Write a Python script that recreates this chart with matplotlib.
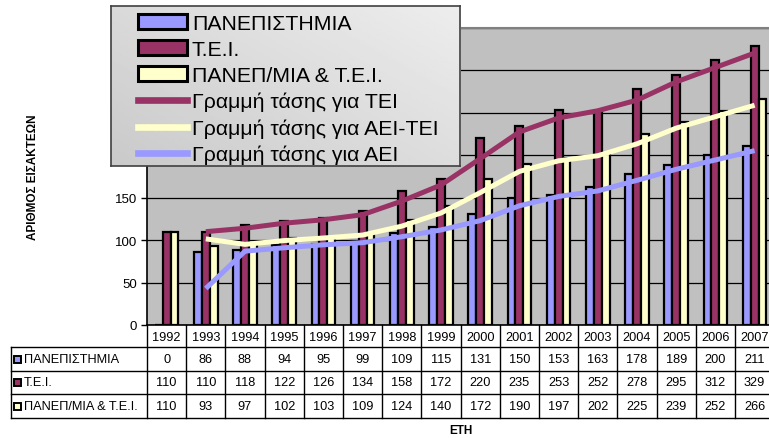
import numpy as np
import matplotlib
matplotlib.use('Agg')
from matplotlib import pyplot as plt
from matplotlib.patches import Patch, Rectangle
from matplotlib.lines import Line2D
from matplotlib.transforms import blended_transform_factory

plt.rcParams['font.family'] = ['Liberation Sans', 'DejaVu Sans']

"DATA"
years = ['1992', '1993', '1994', '1995', '1996', '1997', '1998', '1999',
         '2000', '2001', '2002', '2003', '2004', '2005', '2006', '2007']
aei = [0, 86, 88, 94, 95, 99, 109, 115, 131, 150, 153, 163, 178, 189, 200, 211]
tei = [110, 110, 118, 122, 126, 134, 158, 172, 220, 235, 253, 252, 278, 295, 312, 329]
both = [110, 93, 97, 102, 103, 109, 124, 140, 172, 190, 197, 202, 225, 239, 252, 266]
# trend lines (2-period moving average, from 1993 on)
trend_years = years[1:]
trend_tei = [110, 114, 120, 124, 130, 146, 165, 196, 227.5, 244, 252.5, 265, 286.5, 303.5, 320.5]
trend_both = [101.5, 95, 99.5, 102.5, 106, 116.5, 132, 156, 181, 193.5, 199.5, 213.5, 232, 245.5, 259]
trend_aei = [43, 87, 91, 94.5, 97, 104, 112, 123, 140.5, 151.5, 158, 170.5, 183.5, 194.5, 205.5]

series_names = ['ΠΑΝΕΠΙΣΤΗΜΙΑ', 'Τ.Ε.Ι.', 'ΠΑΝΕΠ/ΜΙΑ & Τ.Ε.Ι.']
trend_names = ['Γραμμή τάσης για ΤΕΙ', 'Γραμμή τάσης για ΑΕΙ-ΤΕΙ', 'Γραμμή τάσης για ΑΕΙ']

"STYLE"
c_aei = '#9999FF'
c_tei = '#993366'
c_both = '#FFFFCC'
W, H = 769, 439
bw = 0.2

fig = plt.figure(figsize=(W/100, H/100), dpi=100)
ax = fig.add_axes([147/W, (H-326)/H, 16*39.2/W, 297/H])
ax.set_facecolor('#C0C0C0')

x = np.arange(len(years))
for vals, off, col in [(aei, -bw, c_aei), (tei, 0, c_tei), (both, bw, c_both)]:
    ax.bar(x + off, vals, width=bw, color=col, edgecolor='black', linewidth=1.6, zorder=3)

xt = np.arange(1, len(years))
ax.plot(xt, trend_tei, color=c_tei, lw=3.6, zorder=4, solid_capstyle='butt')
ax.plot(xt, trend_both, color=c_both, lw=3.6, zorder=4, solid_capstyle='butt')
ax.plot(xt, trend_aei, color=c_aei, lw=3.6, zorder=4, solid_capstyle='butt')

ax.set_xlim(-0.5, len(years) - 0.5)
ax.set_ylim(0, 350)
ax.set_yticks(np.arange(0, 351, 50))
ax.yaxis.grid(True, color='black', lw=0.9)
ax.set_axisbelow(True)
ax.tick_params(axis='y', labelsize=9.5, length=4, pad=3, width=1)
ax.set_xticks(np.arange(-0.5, len(years), 1))
ax.set_xticklabels([])
ax.tick_params(axis='x', length=0)
ax.spines['right'].set_visible(False)
ax.spines['top'].set_color('#808080')
ax.spines['top'].set_linewidth(1.5)
ax.spines['left'].set_linewidth(1.2)
ax.spines['bottom'].set_linewidth(1.2)
ax.set_ylabel('ΑΡΙΘΜΟΣ ΕΙΣΑΚΤΕΩΝ', fontsize=8.5, fontweight='bold', labelpad=55)

"DATA TABLE"
tr = blended_transform_factory(ax.transData, fig.transFigure)
fy = lambda p: (H - p) / H
x_left = (11 - 147) / 39.2 - 0.5
rows_px = [328, 348, 372, 395, 419]
for b in np.arange(-0.5, len(years) + 0.5, 1):
    ax.plot([b, b], [fy(326), fy(419)], color='black', lw=1, transform=tr, clip_on=False)
for yp in rows_px[1:]:
    ax.plot([x_left, len(years) - 0.5], [fy(yp), fy(yp)], color='black', lw=1, transform=tr, clip_on=False)
ax.plot([x_left, x_left], [fy(348), fy(419)], color='black', lw=1, transform=tr, clip_on=False)

for i, yr in enumerate(years):
    ax.text(i, fy(338), yr, ha='center', va='center', fontsize=9.2, transform=tr, clip_on=False)
for r, (name, vals, col) in enumerate(zip(series_names, [aei, tei, both], [c_aei, c_tei, c_both])):
    yc = (rows_px[r + 1] + rows_px[r + 2]) / 2
    for i, v in enumerate(vals):
        ax.text(i, fy(yc), str(v), ha='center', va='center', fontsize=9.2, transform=tr, clip_on=False)
    fig.patches.append(Rectangle((14/W, fy(yc + 3.5)), 7/W, 7/H, facecolor=col, edgecolor='black',
                                 lw=1.4, transform=fig.transFigure))
    fig.text(24/W, fy(yc), name, ha='left', va='center', fontsize=9.2)

fig.text(461/W, fy(431), 'ΕΤΗ', ha='center', va='center', fontsize=8.5, fontweight='bold')

"LEGEND"
lax = fig.add_axes([111/W, fy(167), 349/W, 160/H], zorder=3)
gx, gy = np.meshgrid(np.linspace(0, 1, 200), np.linspace(0, 1, 100))
grad = 0.79 + 0.14 * (0.55 * gx + 0.45 * gy)
lax.imshow(grad, cmap='gray', vmin=0, vmax=1, aspect='auto', origin='lower', extent=[0, 1, 0, 1])
lax.set_xticks([])
lax.set_yticks([])
for s in lax.spines.values():
    s.set_color('#404040')
    s.set_linewidth(1.2)

handles = [Patch(facecolor=c_aei, edgecolor='black', lw=2.2),
           Patch(facecolor=c_tei, edgecolor='black', lw=2.2),
           Patch(facecolor=c_both, edgecolor='black', lw=2.2),
           Line2D([], [], color=c_tei, lw=4.8),
           Line2D([], [], color=c_both, lw=4.8),
           Line2D([], [], color=c_aei, lw=4.8)]
leg = lax.legend(handles, series_names + trend_names, loc='upper left', bbox_to_anchor=(0.053, 1.004),
                 frameon=False, fontsize=15.3, handlelength=2.3, handleheight=0.66,
                 handletextpad=0.23, labelspacing=0.33, borderaxespad=0)

fig.savefig('out.png', dpi=100)
